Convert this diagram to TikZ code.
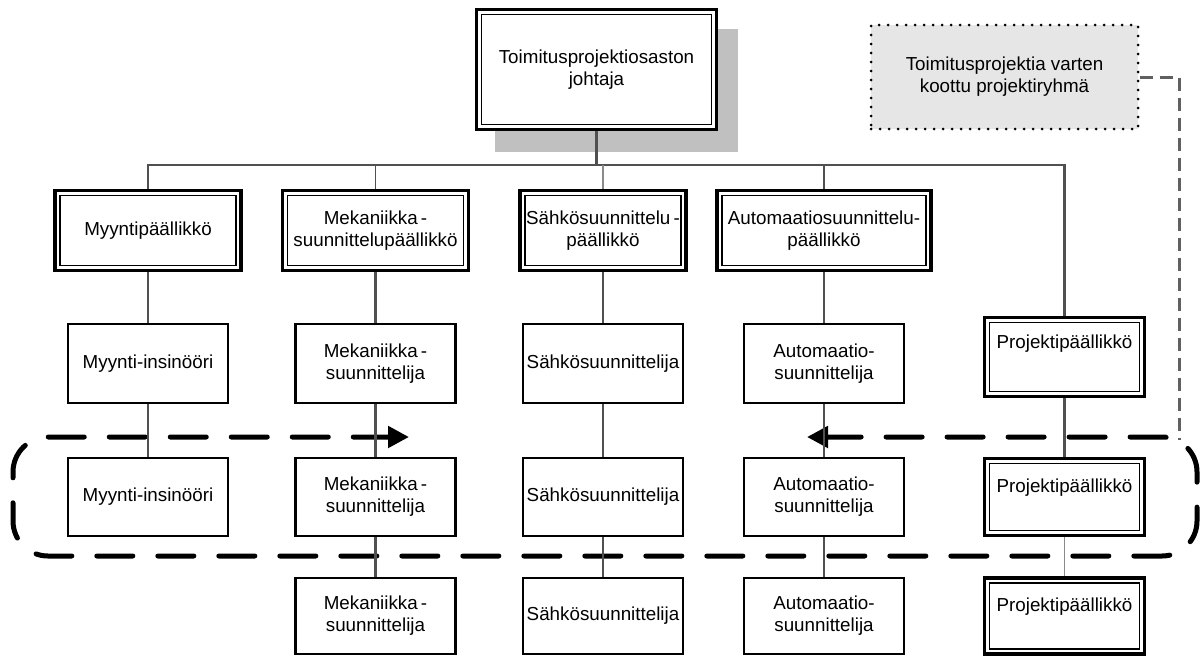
\documentclass[tikz,border=0pt]{standalone}
\usepackage{fontspec}
\setmainfont{Liberation Sans}
\usetikzlibrary{arrows.meta}
\definecolor{connGray}{HTML}{505050}
\definecolor{lightConn}{HTML}{8A8A8A}
\definecolor{shadowGray}{HTML}{C0C0C0}
\definecolor{teamFill}{HTML}{E6E6E6}
\definecolor{linkGray}{HTML}{606060}
\begin{document}
\begin{tikzpicture}[x=1pt,y=-1pt,
  every node/.style={font=\fontsize{18.8}{22}\selectfont, align=center, inner sep=0pt, rectangle},
  dbox/.style={draw, line width=3.2pt, fill=white, minimum width=#1},
  dbox/.default=160pt,
  sbox/.style={draw, line width=2.5pt, fill=white, minimum width=160pt},
  innerline/.style={draw, line width=1.6pt},
  conn/.style={draw=connGray, line width=2.4pt},
  connthin/.style={draw=connGray, line width=1.2pt},
  connlight/.style={draw=lightConn, line width=1.2pt},
  shadowbox/.style={fill=shadowGray, minimum width=243pt, minimum height=123pt},
  teambox/.style={fill=teamFill, draw, line width=3pt, dash pattern=on 0pt off 9pt,
    line cap=round, minimum width=267pt, minimum height=104pt},
  teamlink/.style={draw=linkGray, line width=3pt, dash pattern=on 13pt off 7pt},
  looppath/.style={draw=black, line width=5pt, dash pattern=on 36pt off 25pt, line cap=round,
    rounded corners=35pt, {Triangle[length=21pt,width=21pt]}-{Triangle[length=21pt,width=21pt]}}
]
\useasboundingbox (0,0) rectangle (1204,657);

% shadow of the head box
\node[shadowbox] (topshadow) at (616.5,90.5) {};

% dashed team loop with arrows
\coordinate (loopL) at (409,437);
\coordinate (loopR) at (807,437);
\draw[looppath] (loopL) -- (13,437) -- (13,556) -- (1197,556) -- (1197,437) -- (loopR);
\coordinate (loopjoin) at (1179,440);

% head
\node[dbox=240pt, minimum height=120pt] (top) at (596.5,69.5) {Toimitusprojektiosaston\\johtaja};

% department heads
\node[dbox=186pt, minimum height=80pt] (myyP) at (148,230.5) {Myyntipäällikkö};
\node[dbox=186pt, minimum height=80pt] (mekP) at (375.5,230.5) {Mekaniikka\,-\\suunnittelupäällikkö};
\node[dbox=166pt, minimum height=80pt] (sahP) at (603,230.5) {Sähkösuunnittelu\,-\\päällikkö};
\node[dbox=214pt, minimum height=80pt] (autP) at (824,230.5) {Automaatiosuunnittelu-\\päällikkö};

% second row
\node[sbox, minimum height=79pt] (myy2) at (148,363.5) {Myynti-insinööri};
\node[sbox, minimum height=79pt] (mek2) at (375.5,363.5) {Mekaniikka\,-\\suunnittelija};
\node[sbox, minimum height=79pt] (sah2) at (603,363.5) {Sähkösuunnittelija};
\node[sbox, minimum height=79pt] (aut2) at (824,363.5) {Automaatio-\\suunnittelija};
\node[dbox, minimum height=79pt] (proj1) at (1064.5,357) {Projektipäällikkö\\[2pt]\strut};

% third row
\node[sbox, minimum height=78pt] (myy3) at (148,497) {Myynti-insinööri};
\node[sbox, minimum height=78pt] (mek3) at (375.5,497) {Mekaniikka\,-\\suunnittelija};
\node[sbox, minimum height=78pt] (sah3) at (603,497) {Sähkösuunnittelija};
\node[sbox, minimum height=78pt] (aut3) at (824,497) {Automaatio-\\suunnittelija};
\node[dbox, minimum height=77pt] (proj2) at (1064.5,497) {Projektipäällikkö\\[-6pt]\strut};

% fourth row
\node[sbox, minimum height=76pt] (mek4) at (375.5,616) {Mekaniikka\,-\\suunnittelija};
\node[sbox, minimum height=76pt] (sah4) at (603,616) {Sähkösuunnittelija};
\node[sbox, minimum height=76pt] (aut4) at (824,616) {Automaatio-\\suunnittelija};
\node[dbox, minimum height=76pt] (proj3) at (1064.5,616) {Projektipäällikkö\\[-6pt]\strut};

% inner lines of the double frames
\foreach \n in {top,myyP,mekP,sahP,autP,proj1,proj2,proj3}
  \draw[innerline] ([shift={(6.5pt,-6.5pt)}]\n.north west) rectangle ([shift={(-6.5pt,6.5pt)}]\n.south east);

% project team box
\node[teambox] (team) at (1004.5,77) {Toimitusprojektia varten\\koottu projektiryhmä};
\draw[teamlink] (team.east) -| (loopjoin);

% reporting lines
\coordinate (bus) at (596.5,165);
\draw[conn, line width=3pt] (top.south) -- (bus);
\draw[conn] (myyP.north) |- (bus) -| (proj1.north);
\draw[connthin] (mekP.north) -- (mekP.north |- bus);
\draw[connlight] (sahP.north) -- (sahP.north |- bus);
\draw[connthin] (autP.north) -- (autP.north |- bus);

\draw[conn] (myyP.south) -- (myy2.north);
\draw[conn] (mekP.south) -- (mek2.north);
\draw[conn] (sahP.south) -- (sah2.north);
\draw[conn] (autP.south) -- (aut2.north);

\draw[conn] (myy2.south) -- (myy3.north);
\draw[conn] (mek2.south) -- (mek3.north);
\draw[conn] (sah2.south) -- (sah3.north);
\draw[conn] (aut2.south) -- (aut3.north);
\draw[conn] (proj1.south) -- (proj2.north);

\draw[conn] (mek3.south) -- (mek4.north);
\draw[conn] (sah3.south) -- (sah4.north);
\draw[conn] (aut3.south) -- (aut4.north);
\draw[connlight] (proj2.south) -- (proj3.north);
\end{tikzpicture}
\end{document}
